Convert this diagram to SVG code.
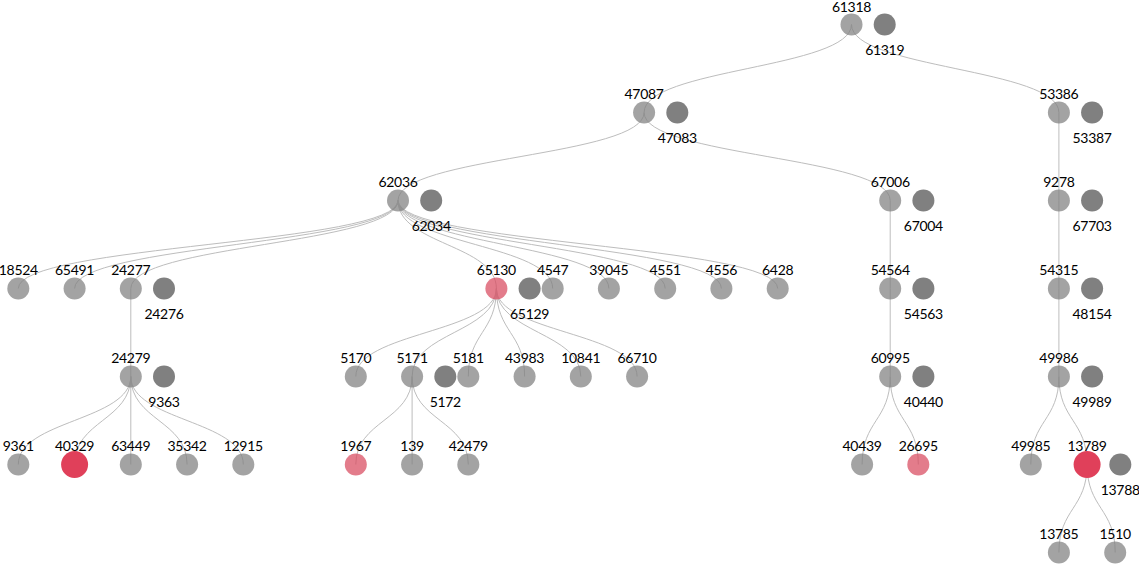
<svg xmlns="http://www.w3.org/2000/svg" width="1139" height="564" viewBox="0 0 1139 564">
<style>
.link{fill:none;stroke:#bdbdbd;stroke-width:1}
.n{fill:#808080;fill-opacity:0.72}
.s{fill:#808080}
.hot{fill:#e0405a}
.warm{fill:#d84a5e;fill-opacity:0.72}
text{font-family:Lato,"Open Sans","DejaVu Sans",sans-serif;font-size:14px;letter-spacing:-0.3px;fill:#000;text-anchor:middle}
</style>
<rect width="1139" height="564" fill="#fff"/>
<g id="links">
<path class="link" d="M851.5,24.5C851.5,68.5 644.1,68.5 644.1,112.5"/>
<path class="link" d="M851.5,24.5C851.5,68.5 1058.9,68.5 1058.9,112.5"/>
<path class="link" d="M644.1,112.5C644.1,156.5 398,156.5 398,200.5"/>
<path class="link" d="M644.1,112.5C644.1,156.5 890.2,156.5 890.2,200.5"/>
<path class="link" d="M1058.9,112.5L1058.9,200.5"/>
<path class="link" d="M398,200.5C398,244.5 18.3,244.5 18.3,288.5"/>
<path class="link" d="M398,200.5C398,244.5 74.6,244.5 74.6,288.5"/>
<path class="link" d="M398,200.5C398,244.5 130.8,244.5 130.8,288.5"/>
<path class="link" d="M398,200.5C398,244.5 496.4,244.5 496.4,288.5"/>
<path class="link" d="M398,200.5C398,244.5 552.7,244.5 552.7,288.5"/>
<path class="link" d="M398,200.5C398,244.5 608.9,244.5 608.9,288.5"/>
<path class="link" d="M398,200.5C398,244.5 665.2,244.5 665.2,288.5"/>
<path class="link" d="M398,200.5C398,244.5 721.4,244.5 721.4,288.5"/>
<path class="link" d="M398,200.5C398,244.5 777.7,244.5 777.7,288.5"/>
<path class="link" d="M890.2,200.5L890.2,288.5"/>
<path class="link" d="M1058.9,200.5L1058.9,288.5"/>
<path class="link" d="M130.8,288.5L130.8,376.5"/>
<path class="link" d="M496.4,288.5C496.4,332.5 355.8,332.5 355.8,376.5"/>
<path class="link" d="M496.4,288.5C496.4,332.5 412.1,332.5 412.1,376.5"/>
<path class="link" d="M496.4,288.5C496.4,332.5 468.3,332.5 468.3,376.5"/>
<path class="link" d="M496.4,288.5C496.4,332.5 524.6,332.5 524.6,376.5"/>
<path class="link" d="M496.4,288.5C496.4,332.5 580.8,332.5 580.8,376.5"/>
<path class="link" d="M496.4,288.5C496.4,332.5 637.1,332.5 637.1,376.5"/>
<path class="link" d="M890.2,288.5L890.2,376.5"/>
<path class="link" d="M1058.9,288.5L1058.9,376.5"/>
<path class="link" d="M130.8,376.5C130.8,420.5 18.3,420.5 18.3,464.5"/>
<path class="link" d="M130.8,376.5C130.8,420.5 74.6,420.5 74.6,464.5"/>
<path class="link" d="M130.8,376.5L130.8,464.5"/>
<path class="link" d="M130.8,376.5C130.8,420.5 187.1,420.5 187.1,464.5"/>
<path class="link" d="M130.8,376.5C130.8,420.5 243.3,420.5 243.3,464.5"/>
<path class="link" d="M412.1,376.5C412.1,420.5 355.8,420.5 355.8,464.5"/>
<path class="link" d="M412.1,376.5L412.1,464.5"/>
<path class="link" d="M412.1,376.5C412.1,420.5 468.3,420.5 468.3,464.5"/>
<path class="link" d="M890.2,376.5C890.2,420.5 862.1,420.5 862.1,464.5"/>
<path class="link" d="M890.2,376.5C890.2,420.5 918.3,420.5 918.3,464.5"/>
<path class="link" d="M1058.9,376.5C1058.9,420.5 1030.8,420.5 1030.8,464.5"/>
<path class="link" d="M1058.9,376.5C1058.9,420.5 1087.1,420.5 1087.1,464.5"/>
<path class="link" d="M1087.1,464.5C1087.1,508.5 1058.9,508.5 1058.9,552.5"/>
<path class="link" d="M1087.1,464.5C1087.1,508.5 1115.2,508.5 1115.2,552.5"/>
</g>
<g id="n61318"><circle class="n" cx="851.5" cy="24.5" r="11"/><text x="851.5" y="11.5">61318</text><circle class="s" cx="884.7" cy="24.5" r="11"/><text x="884.7" y="54.5">61319</text></g>
<g id="n47087"><circle class="n" cx="644.1" cy="112.5" r="11"/><text x="644.1" y="98.5">47087</text><circle class="s" cx="677.3" cy="112.5" r="11"/><text x="677.3" y="142.5">47083</text></g>
<g id="n53386"><circle class="n" cx="1058.9" cy="112.5" r="11"/><text x="1058.9" y="98.5">53386</text><circle class="s" cx="1092.1" cy="112.5" r="11"/><text x="1092.1" y="142.5">53387</text></g>
<g id="n62036"><circle class="n" cx="398" cy="200.5" r="11"/><text x="398" y="186.5">62036</text><circle class="s" cx="431.2" cy="200.5" r="11"/><text x="431.2" y="230.5">62034</text></g>
<g id="n67006"><circle class="n" cx="890.2" cy="200.5" r="11"/><text x="890.2" y="186.5">67006</text><circle class="s" cx="923.4" cy="200.5" r="11"/><text x="923.4" y="230.5">67004</text></g>
<g id="n9278"><circle class="n" cx="1058.9" cy="200.5" r="11"/><text x="1058.9" y="186.5">9278</text><circle class="s" cx="1092.1" cy="200.5" r="11"/><text x="1092.1" y="230.5">67703</text></g>
<g id="n18524"><circle class="n" cx="18.3" cy="288.5" r="11"/><text x="18.3" y="274.5">18524</text></g>
<g id="n65491"><circle class="n" cx="74.6" cy="288.5" r="11"/><text x="74.6" y="274.5">65491</text></g>
<g id="n24277"><circle class="n" cx="130.8" cy="288.5" r="11"/><text x="130.8" y="274.5">24277</text><circle class="s" cx="164" cy="288.5" r="11"/><text x="164" y="318.5">24276</text></g>
<g id="n65130"><circle class="s" cx="529.6" cy="288.5" r="11"/><circle class="warm" cx="496.4" cy="288.5" r="11"/><text x="496.4" y="274.5">65130</text><text x="529.6" y="318.5">65129</text></g>
<g id="n4547"><circle class="n" cx="552.7" cy="288.5" r="11"/><text x="552.7" y="274.5">4547</text></g>
<g id="n39045"><circle class="n" cx="608.9" cy="288.5" r="11"/><text x="608.9" y="274.5">39045</text></g>
<g id="n4551"><circle class="n" cx="665.2" cy="288.5" r="11"/><text x="665.2" y="274.5">4551</text></g>
<g id="n4556"><circle class="n" cx="721.4" cy="288.5" r="11"/><text x="721.4" y="274.5">4556</text></g>
<g id="n6428"><circle class="n" cx="777.7" cy="288.5" r="11"/><text x="777.7" y="274.5">6428</text></g>
<g id="n54564"><circle class="n" cx="890.2" cy="288.5" r="11"/><text x="890.2" y="274.5">54564</text><circle class="s" cx="923.4" cy="288.5" r="11"/><text x="923.4" y="318.5">54563</text></g>
<g id="n54315"><circle class="n" cx="1058.9" cy="288.5" r="11"/><text x="1058.9" y="274.5">54315</text><circle class="s" cx="1092.1" cy="288.5" r="11"/><text x="1092.1" y="318.5">48154</text></g>
<g id="n24279"><circle class="n" cx="130.8" cy="376.5" r="11"/><text x="130.8" y="362.5">24279</text><circle class="s" cx="164" cy="376.5" r="11"/><text x="164" y="406.5">9363</text></g>
<g id="n5170"><circle class="n" cx="355.8" cy="376.5" r="11"/><text x="355.8" y="362.5">5170</text></g>
<g id="n5171"><circle class="n" cx="412.1" cy="376.5" r="11"/><text x="412.1" y="362.5">5171</text><circle class="s" cx="445.3" cy="376.5" r="11"/><text x="445.3" y="406.5">5172</text></g>
<g id="n5181"><circle class="n" cx="468.3" cy="376.5" r="11"/><text x="468.3" y="362.5">5181</text></g>
<g id="n43983"><circle class="n" cx="524.6" cy="376.5" r="11"/><text x="524.6" y="362.5">43983</text></g>
<g id="n10841"><circle class="n" cx="580.8" cy="376.5" r="11"/><text x="580.8" y="362.5">10841</text></g>
<g id="n66710"><circle class="n" cx="637.1" cy="376.5" r="11"/><text x="637.1" y="362.5">66710</text></g>
<g id="n60995"><circle class="n" cx="890.2" cy="376.5" r="11"/><text x="890.2" y="362.5">60995</text><circle class="s" cx="923.4" cy="376.5" r="11"/><text x="923.4" y="406.5">40440</text></g>
<g id="n49986"><circle class="n" cx="1058.9" cy="376.5" r="11"/><text x="1058.9" y="362.5">49986</text><circle class="s" cx="1092.1" cy="376.5" r="11"/><text x="1092.1" y="406.5">49989</text></g>
<g id="n9361"><circle class="n" cx="18.3" cy="464.5" r="11"/><text x="18.3" y="450.5">9361</text></g>
<g id="n40329"><circle class="hot" cx="74.6" cy="464.5" r="13.5"/><text x="74.6" y="450.5">40329</text></g>
<g id="n63449"><circle class="n" cx="130.8" cy="464.5" r="11"/><text x="130.8" y="450.5">63449</text></g>
<g id="n35342"><circle class="n" cx="187.1" cy="464.5" r="11"/><text x="187.1" y="450.5">35342</text></g>
<g id="n12915"><circle class="n" cx="243.3" cy="464.5" r="11"/><text x="243.3" y="450.5">12915</text></g>
<g id="n1967"><circle class="warm" cx="355.8" cy="464.5" r="11"/><text x="355.8" y="450.5">1967</text></g>
<g id="n139"><circle class="n" cx="412.1" cy="464.5" r="11"/><text x="412.1" y="450.5">139</text></g>
<g id="n42479"><circle class="n" cx="468.3" cy="464.5" r="11"/><text x="468.3" y="450.5">42479</text></g>
<g id="n40439"><circle class="n" cx="862.1" cy="464.5" r="11"/><text x="862.1" y="450.5">40439</text></g>
<g id="n26695"><circle class="warm" cx="918.3" cy="464.5" r="11"/><text x="918.3" y="450.5">26695</text></g>
<g id="n49985"><circle class="n" cx="1030.8" cy="464.5" r="11"/><text x="1030.8" y="450.5">49985</text></g>
<g id="n13789"><circle class="hot" cx="1087.1" cy="464.5" r="13.5"/><text x="1087.1" y="450.5">13789</text><circle class="s" cx="1120.3" cy="464.5" r="11"/><text x="1120.3" y="494.5">13788</text></g>
<g id="n13785"><circle class="n" cx="1058.9" cy="552.5" r="11"/><text x="1058.9" y="538.5">13785</text></g>
<g id="n1510"><circle class="n" cx="1115.2" cy="552.5" r="11"/><text x="1115.2" y="538.5">1510</text></g>
</svg>
